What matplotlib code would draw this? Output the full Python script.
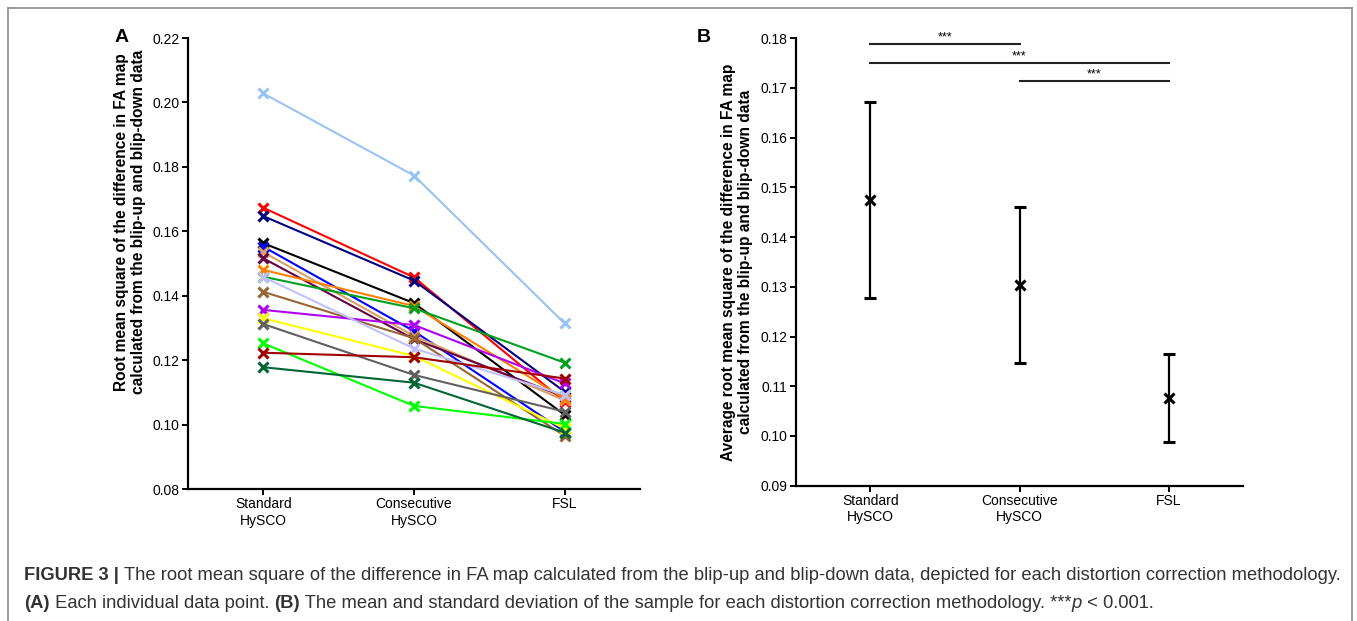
import matplotlib
matplotlib.use('Agg')
import matplotlib.pyplot as plt
from matplotlib.lines import Line2D
import numpy as np

plt.rcParams['font.family'] = ['Liberation Sans', 'DejaVu Sans']

# --- data ---
methods = ['Standard\nHySCO', 'Consecutive\nHySCO', 'FSL']

subj_colors = ['#99c2f5', '#ff0000', '#000080', '#000000', '#0000ff', '#d9a066',
               '#660044', '#ff8000', '#00a020', '#996633', '#b000f0', '#ffff00',
               '#606060', '#c0c0ff', '#00ff00', '#a00000', '#006633']
standard = [0.2028, 0.1673, 0.1647, 0.1563, 0.1552, 0.1535, 0.1516, 0.1480, 0.1459,
            0.1412, 0.1356, 0.1330, 0.1312, 0.1458, 0.1252, 0.1223, 0.1178]
consecutive = [0.1773, 0.1457, 0.1447, 0.1377, 0.1290, 0.1275, 0.1265, 0.1368, 0.1361,
               0.1268, 0.1309, 0.1213, 0.1154, 0.1236, 0.1058, 0.1209, 0.1130]
fsl = [0.1314, 0.1071, 0.1102, 0.1030, 0.0978, 0.1075, 0.1086, 0.1080, 0.1192,
       0.0965, 0.1128, 0.0988, 0.1040, 0.1092, 0.1002, 0.1143, 0.0975]

means = [0.1474, 0.1304, 0.1076]
sds = [0.0197, 0.0157, 0.0088]
sig_pairs = [(0, 1, 0.1788), (0, 2, 0.1750), (1, 2, 0.1713)]

W, H = 1357, 621
fig = plt.figure(figsize=(W / 100, H / 100), dpi=100)

def px(x, y):
    return x / W, 1 - y / H

def style_axes(ax):
    for s in ['top', 'right']:
        ax.spines[s].set_visible(False)
    for s in ['left', 'bottom']:
        ax.spines[s].set_linewidth(1.6)
    ax.tick_params(width=1.4, length=4, labelsize=10, direction='out', pad=2)

# --- panel A ---
axA = fig.add_axes([188 / W, 1 - 489 / H, 452 / W, 451 / H])
x = np.arange(3)
for c, a, b, f in zip(subj_colors, standard, consecutive, fsl):
    axA.plot(x, [a, b, f], color=c, lw=1.5, marker='x', ms=7, mew=2.2)
axA.set_xlim(-0.5, 2.5)
axA.set_ylim(0.08, 0.22)
axA.set_yticks(np.arange(0.08, 0.2201, 0.02))
axA.yaxis.set_major_formatter(plt.FormatStrFormatter('%.2f'))
axA.set_xticks(x)
axA.set_xticklabels(methods)
style_axes(axA)
fig.text(*px(130, 222), 'Root mean square of the difference in FA map\ncalculated from the blip-up and blip-down data',
         rotation=90, ha='center', va='center', fontsize=11.2, fontweight='bold', linespacing=1.1)
fig.text(*px(122, 38), 'A', fontsize=14, fontweight='bold', ha='center', va='center')

# --- panel B ---
axB = fig.add_axes([795.7 / W, 1 - 485.7 / H, 447.6 / W, 447.6 / H])
axB.errorbar(x, means, yerr=sds, fmt='x', color='black', ms=7, mew=2.2,
             elinewidth=1.6, capsize=4, capthick=1.6)
axB.set_xlim(-0.5, 2.5)
axB.set_ylim(0.09, 0.18)
axB.set_yticks(np.arange(0.09, 0.1801, 0.01))
axB.yaxis.set_major_formatter(plt.FormatStrFormatter('%.2f'))
axB.set_xticks(x)
axB.set_xticklabels(methods)
style_axes(axB)
for i, j, yv in sig_pairs:
    axB.plot([i, j], [yv, yv], color='#222222', lw=1.5, clip_on=False)
    axB.text((i + j) / 2, yv + 0.0002, '***', ha='center', va='bottom', fontsize=9, clip_on=False)
fig.text(*px(737, 262), 'Average root mean square of the difference in FA map\ncalculated from the blip-up and blip-down data',
         rotation=90, ha='center', va='center', fontsize=11.2, fontweight='bold', linespacing=1.1)
fig.text(*px(704, 38), 'B', fontsize=14, fontweight='bold', ha='center', va='center')

# --- frame ---
fc = '#8a8a8a'
fig.add_artist(Line2D([7.5 / W, 7.5 / W], [0, 1 - 8 / H], color=fc, lw=1.2))
fig.add_artist(Line2D([7.5 / W, 1351.5 / W], [1 - 8 / H, 1 - 8 / H], color=fc, lw=1.2))
fig.add_artist(Line2D([1351.5 / W, 1351.5 / W], [0, 1 - 8 / H], color=fc, lw=1.2))

# --- caption ---
cap_font = ['Liberation Sans Narrow', 'Liberation Sans', 'DejaVu Sans']
cap_col = '#333333'
renderer = fig.canvas.get_renderer()

def caption_line(x0, y0, parts):
    xx = x0
    for txt, w, st in parts:
        t = fig.text(xx / W, 1 - y0 / H, txt, fontsize=13.2, fontweight=w, fontstyle=st,
                     family=cap_font, color=cap_col, ha='left', va='center')
        bb = t.get_window_extent(renderer)
        xx += bb.width

caption_line(24, 575, [
    ('FIGURE 3 | ', 'bold', 'normal'),
    ('The root mean square of the difference in FA map calculated from the blip-up and blip-down data, '
     'depicted for each distortion correction methodology.', 'normal', 'normal')])
caption_line(24, 603, [
    ('(A)', 'bold', 'normal'),
    (' Each individual data point. ', 'normal', 'normal'),
    ('(B)', 'bold', 'normal'),
    (' The mean and standard deviation of the sample for each distortion correction methodology. ***',
     'normal', 'normal'),
    ('p', 'normal', 'italic'),
    (' < 0.001.', 'normal', 'normal')])

fig.savefig('out.png', dpi=100)
